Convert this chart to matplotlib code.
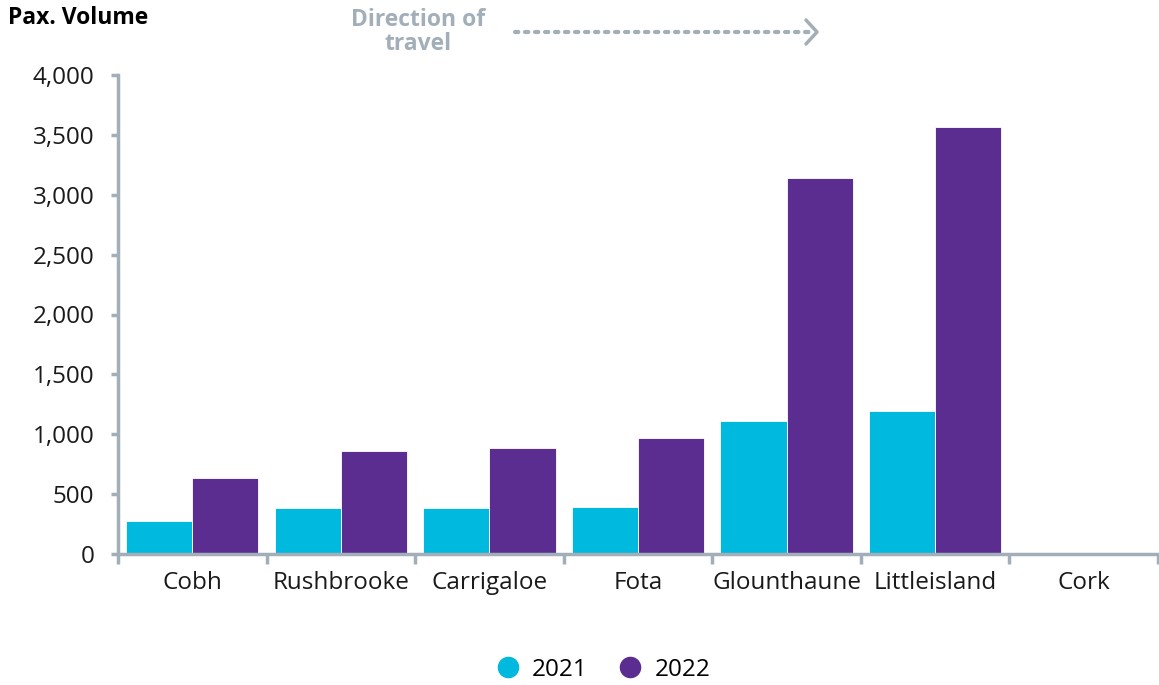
import matplotlib
matplotlib.use("Agg")
import matplotlib.pyplot as plt
import numpy as np
from matplotlib.ticker import FuncFormatter, FixedLocator

categories = ["Cobh", "Rushbrooke", "Carrigaloe", "Fota", "Glounthaune", "Littleisland", "Cork"]
values_2021 = [275, 383, 383, 394, 1111, 1192, 0]
values_2022 = [633, 858, 886, 967, 3142, 3567, 0]
series_names = ["2021", "2022"]
colors = ["#00B9DE", "#5C2D91"]
gray = "#A2AFB9"

plt.rcParams['font.family'] = ['Open Sans', 'DejaVu Sans']

fig = plt.figure(figsize=(11.59, 6.85), dpi=100)
ax = fig.add_axes([118/1159, 1-554/685, (1158-118)/1159, (554-75)/685])

x = np.arange(len(categories))
w = 0.445
ax.bar(x - w/2, values_2021, width=w, color=colors[0], label=series_names[0], edgecolor="white", linewidth=0.6)
ax.bar(x + w/2, values_2022, width=w, color=colors[1], label=series_names[1], edgecolor="white", linewidth=0.6)

ax.set_xlim(-0.5, len(categories) - 0.5)
ax.set_ylim(0, 4000)
ax.set_yticks(np.arange(0, 4001, 500))
ax.yaxis.set_major_formatter(FuncFormatter(lambda v, p: f"{int(v):,}"))

ax.set_xticks(x)
ax.set_xticklabels(categories)
ax.xaxis.set_minor_locator(FixedLocator(np.arange(-0.5, len(categories), 1.0)))
ax.tick_params(axis='x', which='major', length=0, pad=12, labelsize=17.5, labelcolor="#1a1a1a")
ax.tick_params(axis='x', which='minor', length=7, width=2.5, color=gray, direction='out')
ax.tick_params(axis='y', which='major', length=5, width=2.5, color=gray, pad=12, labelsize=17.5, labelcolor="#1a1a1a")

for s in ["top", "right"]:
    ax.spines[s].set_visible(False)
for s in ["left", "bottom"]:
    ax.spines[s].set_color(gray)
    ax.spines[s].set_linewidth(2.5)

fig.text(8/1159, 1-18/685, "Pax. Volume", fontsize=16.5, fontweight='bold', color="black", va='center', ha='left')
fig.text(418/1159, 1-32/685, "Direction of\ntravel", fontsize=16.5, fontweight='bold', color=gray, va='center', ha='center', linespacing=1.0)
fig.lines.append(plt.Line2D([515/1159, 812/1159], [1-32/685, 1-32/685], transform=fig.transFigure,
                            color=gray, linestyle=(0, (0.8, 1.6)), linewidth=3, dash_capstyle='round'))
fig.lines.append(plt.Line2D([806/1159, 817/1159, 806/1159], [1-20/685, 1-32/685, 1-44/685], transform=fig.transFigure,
                            color=gray, linewidth=2.5, solid_capstyle='round'))

handles = [plt.Line2D([], [], marker='o', linestyle='none', markersize=14.5, color=c) for c in colors]
fig.legend(handles, series_names, loc='center', bbox_to_anchor=(600/1159, 1-670/685), ncol=2, frameon=False,
           fontsize=17.5, handletextpad=0.25, columnspacing=1.0, handlelength=1.5)

fig.savefig("out.png", dpi=100)
